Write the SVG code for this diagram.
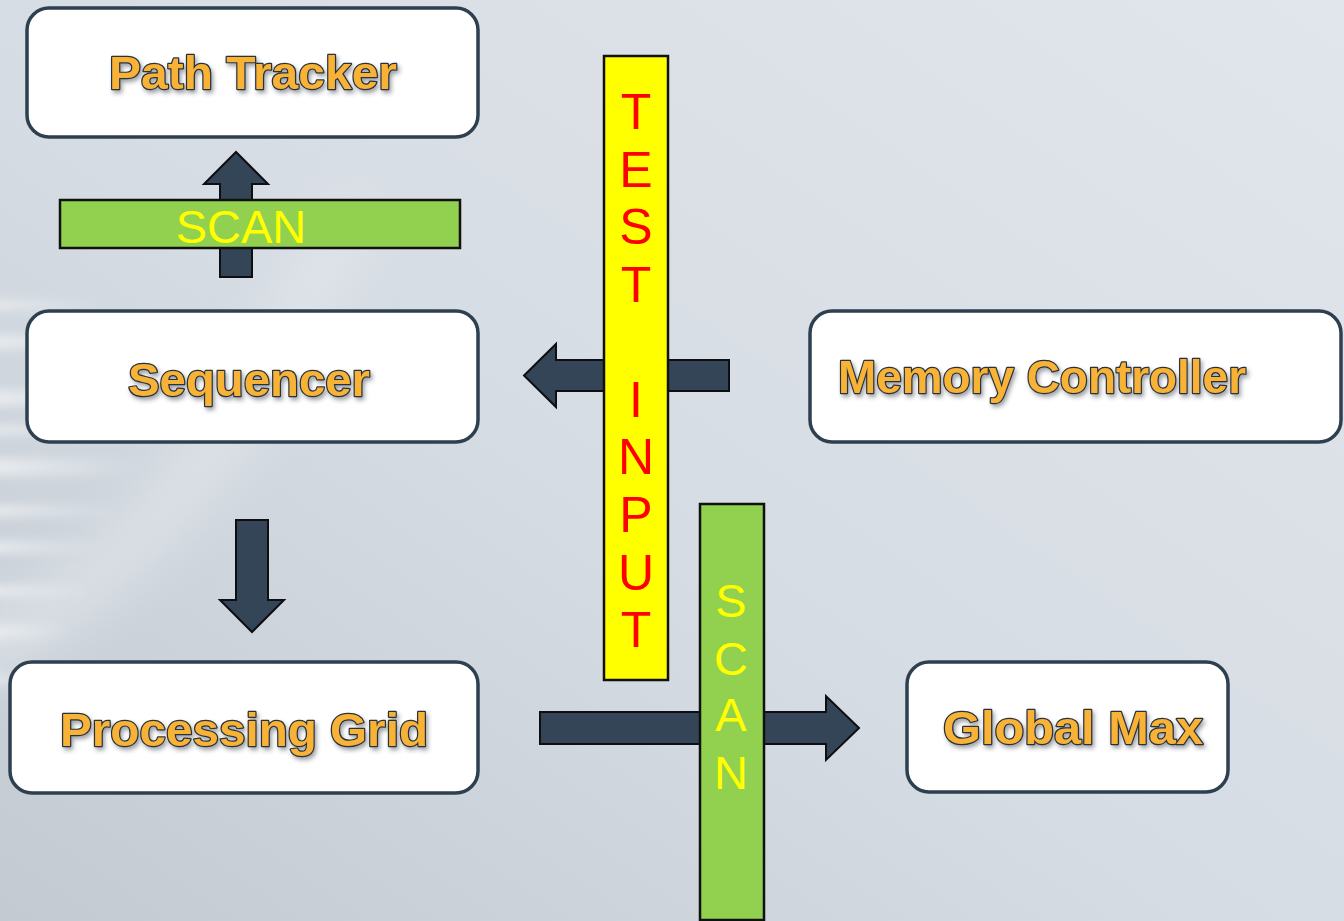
<svg xmlns="http://www.w3.org/2000/svg" width="1344" height="921" viewBox="0 0 1344 921">
  <defs>
    <linearGradient id="bg" x1="1" y1="0" x2="0" y2="1">
      <stop offset="0" stop-color="#e1e6ec"/>
      <stop offset="0.55" stop-color="#d6dce3"/>
      <stop offset="1" stop-color="#c3cad2"/>
    </linearGradient>
    <linearGradient id="streak" x1="0" y1="0" x2="1" y2="0">
      <stop offset="0" stop-color="#f6f8fa" stop-opacity="0.9"/>
      <stop offset="1" stop-color="#f6f8fa" stop-opacity="0"/>
    </linearGradient>
    <filter id="soft" x="-50%" y="-100%" width="200%" height="300%">
      <feGaussianBlur stdDeviation="6 4"/>
    </filter>
    <filter id="haze" x="-50%" y="-50%" width="200%" height="200%">
      <feGaussianBlur stdDeviation="25"/>
    </filter>
    <filter id="shadow" x="-10%" y="-30%" width="120%" height="160%">
      <feDropShadow dx="2" dy="3" stdDeviation="2" flood-color="#2a3440" flood-opacity="0.45"/>
    </filter>
    <style>
      .box { fill: #ffffff; stroke: #2e3f4f; stroke-width: 3.5; }
      .title { font-family: "Liberation Sans", Arial, sans-serif; font-weight: bold; font-size: 47px;
               fill: #f8b234; stroke: #26313e; stroke-width: 2.4; paint-order: stroke; stroke-linejoin: round;
               text-anchor: middle; filter: url(#shadow); }
      .arrow { fill: #334556; stroke: #0d0f12; stroke-width: 2; stroke-linejoin: miter; }
      .bar-green { fill: #92d050; stroke: #111111; stroke-width: 2.5; }
      .bar-yellow { fill: #ffff00; stroke: #111111; stroke-width: 2.5; }
      .lbl { font-family: "Liberation Sans", Arial, sans-serif; text-anchor: middle; }
      .lbl-scan { fill: #ffff00; font-size: 47px; }
      .lbl-test { fill: #ff0000; font-size: 50px; }
    </style>
  </defs>

  <!-- backdrop -->
  <rect x="0" y="0" width="1344" height="921" fill="url(#bg)"/>
  <path d="M -40 620 C 120 560, 220 420, 330 200 L 380 200 C 280 440, 160 600, -40 700 Z" fill="#e8ecf0" opacity="0.5" filter="url(#haze)"/>
  <g filter="url(#soft)" opacity="0.75">
    <rect x="-20" y="300" width="120" height="10" fill="url(#streak)"/>
    <rect x="-20" y="335" width="150" height="14" fill="url(#streak)"/>
    <rect x="-20" y="390" width="170" height="16" fill="url(#streak)"/>
    <rect x="-20" y="425" width="130" height="10" fill="url(#streak)"/>
    <rect x="-20" y="458" width="160" height="18" fill="url(#streak)"/>
    <rect x="-20" y="505" width="140" height="12" fill="url(#streak)"/>
    <rect x="-20" y="540" width="120" height="14" fill="url(#streak)"/>
    <rect x="-20" y="585" width="110" height="12" fill="url(#streak)"/>
    <rect x="-20" y="625" width="90" height="14" fill="url(#streak)"/>
    <rect x="-20" y="675" width="60" height="10" fill="url(#streak)"/>
  </g>

  <!-- connectors -->
  <g id="connectors">
    <!-- Sequencer -> Path Tracker -->
    <polygon class="arrow" points="220,277 252,277 252,184 268,184 236,152 204,184 220,184"/>
    <!-- Memory Controller -> Sequencer -->
    <polygon class="arrow" points="729,360 729,391 556,391 556,407 524,375.5 556,344 556,360"/>
    <!-- Sequencer -> Processing Grid -->
    <polygon class="arrow" points="236,520 268,520 268,600 284,600 252,632 220,600 236,600"/>
    <!-- Processing Grid -> Global Max -->
    <polygon class="arrow" points="540,712 826,712 826,696 859,728 826,760 826,744 540,744"/>

    <!-- path labels -->
    <g id="scan-top">
      <rect class="bar-green" x="60" y="200" width="400" height="48"/>
      <text class="lbl lbl-scan" x="241" y="243">SCAN</text>
    </g>
    <g id="test-input">
      <rect class="bar-yellow" x="604" y="56" width="64" height="624"/>
      <text class="lbl lbl-test" x="636" y="129">T</text>
      <text class="lbl lbl-test" x="636" y="187">E</text>
      <text class="lbl lbl-test" x="636" y="244">S</text>
      <text class="lbl lbl-test" x="636" y="302">T</text>
      <text class="lbl lbl-test" x="636" y="417">I</text>
      <text class="lbl lbl-test" x="636" y="474">N</text>
      <text class="lbl lbl-test" x="636" y="532">P</text>
      <text class="lbl lbl-test" x="636" y="590">U</text>
      <text class="lbl lbl-test" x="636" y="647">T</text>
    </g>
    <g id="scan-side">
      <rect class="bar-green" x="700" y="504" width="64" height="416"/>
      <text class="lbl lbl-scan" x="731" y="617">S</text>
      <text class="lbl lbl-scan" x="731" y="675">C</text>
      <text class="lbl lbl-scan" x="731" y="731">A</text>
      <text class="lbl lbl-scan" x="731" y="789">N</text>
    </g>
  </g>

  <!-- nodes -->
  <g id="path-tracker">
    <rect class="box" x="27" y="8" width="451" height="129" rx="22"/>
    <text class="title" x="253" y="89" textLength="288" lengthAdjust="spacingAndGlyphs">Path Tracker</text>
  </g>
  <g id="sequencer">
    <rect class="box" x="27" y="311" width="451" height="131" rx="22"/>
    <text class="title" x="249" y="396" textLength="242" lengthAdjust="spacingAndGlyphs">Sequencer</text>
  </g>
  <g id="processing-grid">
    <rect class="box" x="10" y="662" width="468" height="131" rx="22"/>
    <text class="title" x="244" y="746" textLength="368" lengthAdjust="spacingAndGlyphs">Processing Grid</text>
  </g>
  <g id="memory-controller">
    <rect class="box" x="810" y="311" width="531" height="131" rx="22"/>
    <text class="title" x="1042" y="393" textLength="408" lengthAdjust="spacingAndGlyphs">Memory Controller</text>
  </g>
  <g id="global-max">
    <rect class="box" x="907" y="662" width="321" height="130" rx="22"/>
    <text class="title" x="1073" y="744" textLength="260" lengthAdjust="spacingAndGlyphs">Global Max</text>
  </g>
</svg>
